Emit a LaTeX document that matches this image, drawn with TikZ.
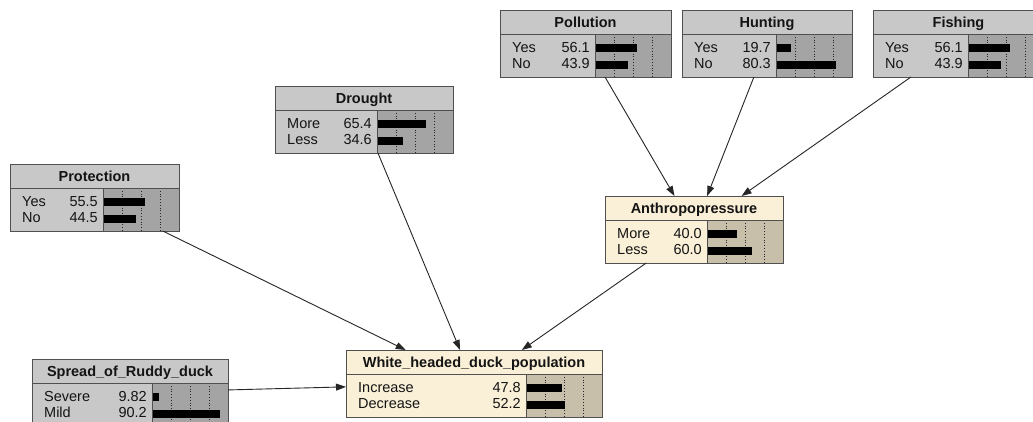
\documentclass[tikz,border=0pt]{standalone}
\usepackage{fontspec}
\setmainfont{Liberation Sans}
\usetikzlibrary{arrows.meta}
\definecolor{gA}{HTML}{C8C8C8}
\definecolor{gB}{HTML}{A4A4A4}
\definecolor{bA}{HTML}{FAF0D8}
\definecolor{bB}{HTML}{C8BFAA}
\definecolor{frm}{HTML}{505050}
\definecolor{txt}{HTML}{141414}
\tikzset{
  bnframe/.style={draw=frm, line width=1pt},
  bntitle/.style={anchor=base, inner sep=0pt, text=txt, font=\fontsize{14.5}{16}\selectfont\bfseries},
  bnstate/.style={anchor=base west, inner sep=0pt, text=txt, font=\fontsize{14.5}{16}\selectfont},
  bnval/.style={anchor=base east, inner sep=0pt, text=txt, font=\fontsize{14.5}{16}\selectfont},
  bnbar/.style={fill=black},
  bngrid/.style={draw=black!85, dotted, line width=0.8pt},
  link/.style={draw=black!85, line width=0.9pt, -{Triangle[length=10pt,width=7pt]}},
}
\newcommand\bnbox[6]{%
  \def\bnx{#3}\def\bny{#4}\def\bnw{#5}\def\bnname{#1}%
  \node[fill=#2A, draw=none, inner sep=0pt, outer sep=0pt, minimum width=#5pt, minimum height=67pt, anchor=north west] (#1) at (#3,#4) {};
  \fill[#2B] ({#3+#5-76},{#4+24}) rectangle ({#3+#5},{#4+67});
  \foreach \k in {19,38,57} {\draw[bngrid] ({#3+#5-76+\k},{#4+24}) -- ({#3+#5-76+\k},{#4+67});}
  \node[bntitle] at ({#3+#5/2},{#4+17}) {#6};
}
\newcommand\bnrows[4]{%
  \fill[bnbar] ({\bnx+\bnw-76},{\bny+33.5}) rectangle ({\bnx+\bnw-76+0.75*#2},{\bny+41.5});
  \fill[bnbar] ({\bnx+\bnw-76},{\bny+50.5}) rectangle ({\bnx+\bnw-76+0.75*#4},{\bny+58.5});
  \node[bnstate] at ({\bnx+12},{\bny+42}) {#1};
  \node[bnval] at ({\bnx+\bnw-81},{\bny+42}) {#2};
  \node[bnstate] at ({\bnx+12},{\bny+58.5}) {#3};
  \node[bnval] at ({\bnx+\bnw-81},{\bny+58.5}) {#4};
  \draw[bnframe] ({\bnx},{\bny+24}) -- ({\bnx+\bnw},{\bny+24});
  \draw[bnframe] ({\bnx+\bnw-76},{\bny+24}) -- ({\bnx+\bnw-76},{\bny+67});
  \draw[bnframe] (\bnname.north west) rectangle (\bnname.south east);
}
\begin{document}
\begin{tikzpicture}[x=1pt, y=-1pt]
  \useasboundingbox (0,0) rectangle (1033,421);
  \clip (0,0) rectangle (1033,421);
  \fill[white] (0,0) rectangle (1033,421);

  \bnbox{poll}{g}{500}{10}{171}{Pollution}
  \bnrows{Yes}{56.1}{No}{43.9}
  \bnbox{hunt}{g}{682}{10}{170}{Hunting}
  \bnrows{Yes}{19.7}{No}{80.3}
  \bnbox{fish}{g}{873}{10}{171}{Fishing}
  \bnrows{Yes}{56.1}{No}{43.9}
  \bnbox{drought}{g}{275}{86}{178}{Drought}
  \bnrows{More}{65.4}{Less}{34.6}
  \bnbox{prot}{g}{10}{164}{169}{Protection}
  \bnrows{Yes}{55.5}{No}{44.5}
  \bnbox{anth}{b}{605}{196}{178}{Anthropopressure}
  \bnrows{More}{40.0}{Less}{60.0}
  \bnbox{white}{b}{346}{350}{256}{White\_headed\_duck\_population}
  \bnrows{Increase}{47.8}{Decrease}{52.2}
  \bnbox{spread}{g}{32}{359}{196}{Spread\_of\_Ruddy\_duck}
  \bnrows{Severe}{9.82}{Mild}{90.2}

  \draw[link] (poll) -- (anth);
  \draw[link] (hunt) -- (anth);
  \draw[link] (fish) -- (anth);
  \draw[link] (prot) -- (white);
  \draw[link] (drought) -- (white);
  \draw[link] (anth) -- (white);
  \draw[link] (spread) -- (white);
\end{tikzpicture}
\end{document}
